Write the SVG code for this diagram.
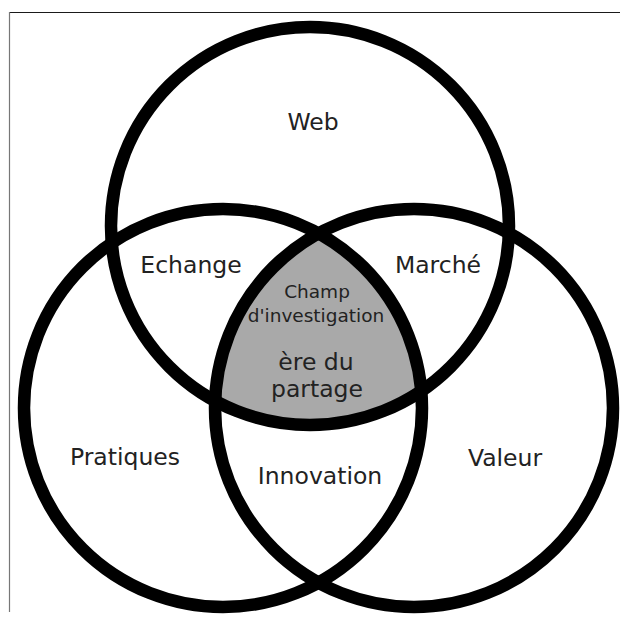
<svg xmlns="http://www.w3.org/2000/svg" width="620" height="618" viewBox="0 0 620 618">
  <style>
    .ring { fill: none; stroke: #000; stroke-width: 12.5; }
    .lbl { font-family: "DejaVu Sans", Verdana, sans-serif; font-size: 23.5px; fill: #222; text-anchor: middle; }
    .small { font-size: 18.5px; }
  </style>
  <rect width="620" height="618" fill="#fff"/>
  <g id="frame">
    <line x1="9" y1="12.5" x2="620" y2="12.5" stroke="#1a1a1a" stroke-width="1.2"/>
    <line x1="9.5" y1="12" x2="9.5" y2="612" stroke="#777" stroke-width="1.2"/>
  </g>
  <g id="center-region">
    <path d="M 318.5 233.4 A 199 199 0 0 1 421.2 391 A 199 199 0 0 1 215.1 401 A 199 199 0 0 1 318.5 233.4 Z" fill="#a9a9a9"/>
  </g>
  <g id="circles">
    <circle id="web" class="ring" cx="310" cy="226" r="199"/>
    <circle id="pratiques" class="ring" cx="223" cy="408" r="199"/>
    <circle id="valeur" class="ring" cx="414" cy="408" r="199"/>
  </g>
  <g id="labels">
    <text class="lbl" x="313" y="130">Web</text>
    <text class="lbl" x="191" y="273">Echange</text>
    <text class="lbl" x="438" y="273">Marché</text>
    <text class="lbl small" x="317" y="298">Champ</text>
    <text class="lbl small" x="316" y="322">d'investigation</text>
    <text class="lbl" x="316" y="370">ère du</text>
    <text class="lbl" x="317" y="397">partage</text>
    <text class="lbl" x="125" y="465">Pratiques</text>
    <text class="lbl" x="505" y="466">Valeur</text>
    <text class="lbl" x="320" y="484">Innovation</text>
  </g>
</svg>
